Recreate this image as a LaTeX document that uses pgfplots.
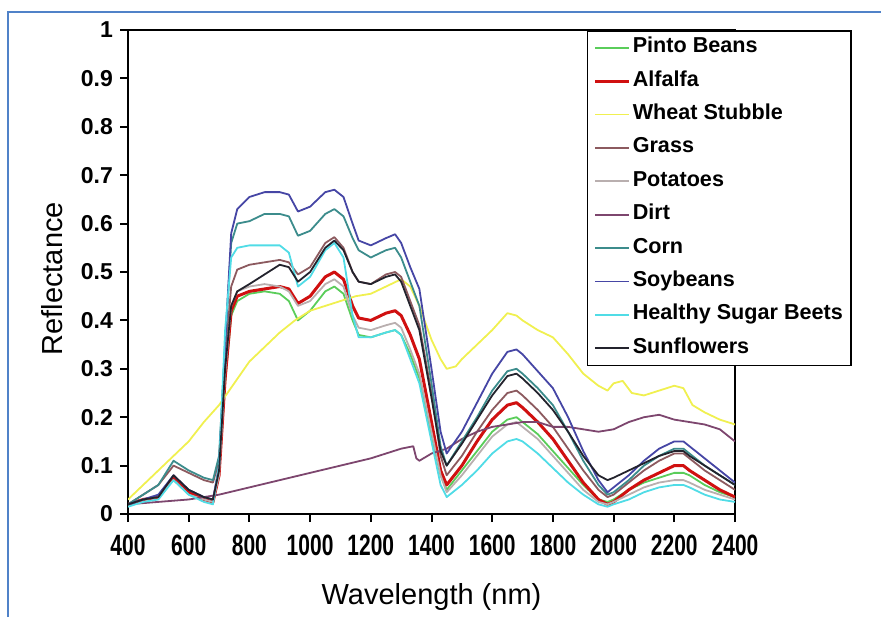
\documentclass[border=0pt]{standalone}
\usepackage{fontspec}
\setmainfont{Liberation Sans}
\usepackage{pgfplots}
\pgfplotsset{compat=1.18}
\definecolor{framec}{RGB}{80,130,200}
\definecolor{pinto}{RGB}{90,205,90}
\definecolor{alfalfa}{RGB}{208,16,16}
\definecolor{wheat}{RGB}{240,240,80}
\definecolor{grass}{RGB}{140,90,95}
\definecolor{potato}{RGB}{185,175,175}
\definecolor{dirt}{RGB}{125,70,110}
\definecolor{corn}{RGB}{60,140,140}
\definecolor{soy}{RGB}{70,70,165}
\definecolor{beet}{RGB}{80,220,230}
\definecolor{sunfl}{RGB}{35,35,45}
\begin{document}
\begin{tikzpicture}
\path[use as bounding box] (0pt,0pt) rectangle (440.5pt,308.5pt);
\draw[framec, line width=1pt] (4pt,0pt) -- (4pt,302.5pt) -- (440.5pt,302.5pt);
\begin{axis}[
  at={(64pt,51.5pt)}, anchor=south west,
  scale only axis, width=303.5pt, height=242pt,
  xmin=400, xmax=2400, ymin=0, ymax=1,
  xtick={400,600,800,1000,1200,1400,1600,1800,2000,2200,2400},
  ytick={0,0.1,0.2,0.3,0.4,0.5,0.6,0.7,0.8,0.9,1},
  tick align=outside, tick pos=left, major tick length=4pt,
  axis line style={line width=1pt},
  every tick/.style={black, line width=1pt},
  tick label style={font=\fontsize{11.5}{13}\selectfont\bfseries},
  /pgf/number format/assume math mode=true,
  yticklabel style={/pgf/number format/fixed, /pgf/number format/precision=1},
  xticklabel={\scalebox{1}[1.4]{\pgfmathprintnumber[set thousands separator={}]{\tick}}},
  xticklabel style={font=\fontsize{10.5}{13}\selectfont\bfseries, yshift=-3pt},
  xlabel={Wavelength (nm)}, ylabel={Reflectance},
  label style={font=\fontsize{14.5}{16}\selectfont},
  xlabel style={at={(axis description cs:0.5,-0.1715)}, anchor=center},
  ylabel style={at={(axis description cs:-0.125,0.486)}, anchor=center},
  legend style={at={(axis description cs:0.756,1)}, anchor=north west,
    draw=black, line width=0.75pt, fill=white,
    font=\fontsize{10.8}{12}\selectfont\bfseries,
    inner xsep=3pt, inner ysep=2.5pt, row sep=4.7pt,
    nodes={text height=7.5pt, text depth=2.5pt, inner sep=1pt}},
  legend cell align=left,
  every axis plot/.append style={line width=0.9pt, line join=round},
]
\addplot[pinto] table {
400 0.02
450 0.03
500 0.035
550 0.075
600 0.045
650 0.03
680 0.025
700 0.08
720 0.27
740 0.41
760 0.44
800 0.455
850 0.46
900 0.455
930 0.44
960 0.40
1000 0.42
1050 0.46
1080 0.47
1110 0.455
1140 0.40
1160 0.37
1200 0.365
1250 0.375
1280 0.38
1300 0.37
1330 0.33
1360 0.28
1400 0.16
1430 0.08
1450 0.05
1500 0.09
1550 0.13
1600 0.17
1650 0.195
1680 0.20
1700 0.19
1750 0.165
1800 0.13
1850 0.095
1900 0.06
1950 0.03
1980 0.025
2000 0.03
2050 0.05
2100 0.065
2150 0.075
2200 0.085
2230 0.085
2250 0.08
2300 0.06
2350 0.045
2400 0.035
};
\addlegendentry{Pinto Beans}
\addplot[alfalfa, line width=1.5pt] table {
400 0.02
450 0.03
500 0.035
550 0.075
600 0.045
650 0.03
680 0.025
700 0.08
720 0.28
740 0.42
760 0.45
800 0.46
850 0.465
900 0.47
930 0.465
960 0.435
1000 0.45
1050 0.49
1080 0.50
1110 0.485
1140 0.43
1160 0.405
1200 0.40
1250 0.415
1280 0.42
1300 0.41
1330 0.37
1360 0.32
1400 0.19
1430 0.09
1450 0.06
1500 0.10
1550 0.15
1600 0.195
1650 0.225
1680 0.23
1700 0.22
1750 0.19
1800 0.155
1850 0.11
1900 0.065
1950 0.03
1980 0.02
2000 0.025
2050 0.05
2100 0.07
2150 0.085
2200 0.10
2230 0.10
2250 0.09
2300 0.07
2350 0.05
2400 0.035
};
\addlegendentry{Alfalfa}
\addplot[wheat] table {
400 0.03
450 0.06
500 0.09
550 0.12
600 0.15
650 0.19
700 0.225
750 0.27
800 0.315
850 0.345
900 0.375
950 0.40
1000 0.42
1050 0.43
1100 0.44
1150 0.45
1200 0.455
1250 0.47
1300 0.485
1330 0.47
1360 0.43
1400 0.36
1430 0.32
1450 0.30
1480 0.305
1500 0.32
1550 0.35
1600 0.38
1650 0.415
1680 0.41
1700 0.40
1750 0.38
1800 0.365
1850 0.33
1900 0.29
1950 0.265
1980 0.255
2000 0.27
2030 0.275
2060 0.25
2100 0.245
2150 0.255
2200 0.265
2230 0.26
2260 0.225
2300 0.21
2350 0.195
2400 0.185
};
\addlegendentry{Wheat Stubble}
\addplot[grass] table {
400 0.02
450 0.04
500 0.06
550 0.10
600 0.085
650 0.07
680 0.065
700 0.11
720 0.32
740 0.47
760 0.505
800 0.515
850 0.52
900 0.525
930 0.52
960 0.495
1000 0.51
1050 0.56
1080 0.572
1110 0.55
1140 0.50
1160 0.48
1200 0.475
1250 0.495
1280 0.50
1300 0.49
1330 0.44
1360 0.39
1400 0.25
1430 0.12
1450 0.08
1500 0.12
1550 0.17
1600 0.215
1650 0.25
1680 0.255
1700 0.245
1750 0.215
1800 0.18
1850 0.135
1900 0.09
1950 0.05
1980 0.035
2000 0.04
2050 0.065
2100 0.09
2150 0.11
2200 0.125
2230 0.125
2250 0.115
2300 0.09
2350 0.07
2400 0.05
};
\addlegendentry{Grass}
\addplot[potato] table {
400 0.02
450 0.03
500 0.035
550 0.07
600 0.04
650 0.03
680 0.025
700 0.08
720 0.29
740 0.43
760 0.46
800 0.47
850 0.475
900 0.47
930 0.46
960 0.43
1000 0.44
1050 0.475
1080 0.485
1110 0.47
1140 0.41
1160 0.385
1200 0.38
1250 0.39
1280 0.395
1300 0.385
1330 0.34
1360 0.29
1400 0.17
1430 0.08
1450 0.045
1500 0.08
1550 0.12
1600 0.16
1650 0.185
1680 0.19
1700 0.18
1750 0.155
1800 0.12
1850 0.085
1900 0.05
1950 0.025
1980 0.02
2000 0.025
2050 0.04
2100 0.055
2150 0.065
2200 0.07
2230 0.07
2250 0.065
2300 0.05
2350 0.04
2400 0.03
};
\addlegendentry{Potatoes}
\addplot[dirt] table {
400 0.02
500 0.025
600 0.03
700 0.04
800 0.055
900 0.07
1000 0.085
1100 0.10
1200 0.115
1300 0.135
1340 0.14
1350 0.115
1360 0.11
1400 0.125
1450 0.135
1500 0.155
1550 0.17
1600 0.18
1650 0.185
1700 0.19
1750 0.19
1800 0.18
1850 0.18
1900 0.175
1950 0.17
2000 0.175
2050 0.19
2100 0.20
2150 0.205
2200 0.195
2250 0.19
2300 0.185
2350 0.175
2400 0.15
};
\addlegendentry{Dirt}
\addplot[corn] table {
400 0.02
450 0.04
500 0.06
550 0.11
600 0.09
650 0.075
680 0.07
700 0.12
720 0.35
740 0.56
760 0.60
800 0.605
850 0.62
900 0.62
930 0.615
960 0.575
1000 0.585
1050 0.62
1080 0.63
1110 0.615
1140 0.57
1160 0.545
1200 0.53
1250 0.545
1280 0.55
1300 0.53
1330 0.48
1360 0.43
1400 0.27
1430 0.14
1450 0.10
1500 0.15
1550 0.20
1600 0.255
1650 0.295
1680 0.30
1700 0.29
1750 0.26
1800 0.225
1850 0.17
1900 0.11
1950 0.06
1980 0.04
2000 0.045
2050 0.07
2100 0.10
2150 0.12
2200 0.135
2230 0.135
2250 0.125
2300 0.10
2350 0.08
2400 0.06
};
\addlegendentry{Corn}
\addplot[soy] table {
400 0.02
450 0.03
500 0.04
550 0.08
600 0.05
650 0.035
680 0.03
700 0.10
720 0.35
740 0.58
760 0.63
800 0.655
850 0.665
900 0.665
930 0.66
960 0.625
1000 0.635
1050 0.665
1080 0.67
1110 0.655
1140 0.60
1160 0.565
1200 0.555
1250 0.57
1280 0.578
1300 0.56
1330 0.51
1360 0.465
1400 0.30
1430 0.17
1450 0.125
1500 0.17
1550 0.23
1600 0.29
1650 0.335
1680 0.34
1700 0.33
1750 0.295
1800 0.26
1850 0.20
1900 0.13
1950 0.07
1980 0.045
2000 0.055
2050 0.08
2100 0.11
2150 0.135
2200 0.15
2230 0.15
2250 0.14
2300 0.115
2350 0.09
2400 0.065
};
\addlegendentry{Soybeans}
\addplot[beet] table {
400 0.015
450 0.025
500 0.03
550 0.07
600 0.04
650 0.025
680 0.02
700 0.10
720 0.38
740 0.53
760 0.55
800 0.555
850 0.555
900 0.555
930 0.54
960 0.47
1000 0.49
1050 0.545
1080 0.56
1110 0.53
1140 0.41
1160 0.365
1200 0.365
1250 0.375
1280 0.38
1300 0.37
1330 0.32
1360 0.27
1400 0.15
1430 0.06
1450 0.035
1500 0.06
1550 0.09
1600 0.125
1650 0.15
1680 0.155
1700 0.15
1750 0.125
1800 0.095
1850 0.065
1900 0.04
1950 0.02
1980 0.015
2000 0.02
2050 0.03
2100 0.045
2150 0.055
2200 0.06
2230 0.06
2250 0.055
2300 0.04
2350 0.03
2400 0.025
};
\addlegendentry{Healthy Sugar Beets}
\addplot[sunfl] table {
400 0.02
450 0.03
500 0.035
550 0.08
600 0.05
650 0.035
680 0.03
700 0.09
720 0.30
740 0.43
760 0.46
800 0.475
850 0.495
900 0.515
930 0.51
960 0.48
1000 0.50
1050 0.55
1080 0.565
1110 0.545
1140 0.50
1160 0.48
1200 0.475
1250 0.49
1280 0.495
1300 0.48
1330 0.43
1360 0.38
1400 0.24
1430 0.13
1450 0.10
1500 0.145
1550 0.195
1600 0.245
1650 0.285
1680 0.29
1700 0.28
1750 0.25
1800 0.215
1850 0.17
1900 0.12
1950 0.08
1980 0.07
2000 0.075
2050 0.09
2100 0.105
2150 0.12
2200 0.13
2230 0.13
2250 0.12
2300 0.10
2350 0.08
2400 0.06
};
\addlegendentry{Sunflowers}
\end{axis}
\end{tikzpicture}
\end{document}
